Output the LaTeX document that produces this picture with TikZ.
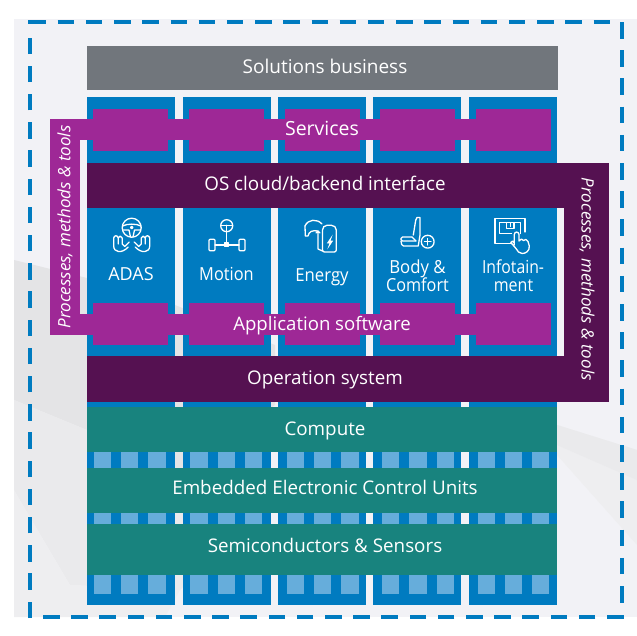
\documentclass[tikz,border=0pt]{standalone}
\usepackage{fontspec}
\setmainfont{Open Sans}
\definecolor{bgc}{HTML}{F2F2F6}
\definecolor{bgd}{HTML}{E4E4E6}
\definecolor{bgm}{HTML}{EAEAEC}
\definecolor{bgl}{HTML}{EEEEF0}
\definecolor{bluec}{HTML}{007BC0}
\definecolor{lightb}{HTML}{66ADDB}
\definecolor{purp}{HTML}{9E2896}
\definecolor{dpurp}{HTML}{551151}
\definecolor{tealc}{HTML}{18837E}
\definecolor{grayc}{HTML}{71767C}
\tikzset{
  lab/.style={text=white,anchor=base,inner sep=0pt,font=\fontsize{#1}{#1}\selectfont},
  lab/.default=18.8,
  iconlab/.style={text=white,anchor=base,inner sep=0pt,font=\fontsize{18}{18}\selectfont,xscale=#1,transform shape},
  side/.style={text=white,inner sep=0pt,font=\fontsize{17}{17}\selectfont\itshape},
  ico/.style={draw=white,line width=1.3pt,line join=round,line cap=round},
  dashb/.style={draw=bluec,line width=3.3pt,dash pattern=on 16.5pt off 11.7pt}
}
\begin{document}
\begin{tikzpicture}[x=1pt,y=-1pt]
\useasboundingbox (0,0) rectangle (637,635);
% background
\fill[bgc] (14,19) rectangle (637,617);
\fill[bgd] (14,260) -- (87,278) -- (175,305) -- (275,345) -- (275,405) -- (175,480) -- (87,430) -- (14,400) -- cycle;
\fill[bgm] (14,400) -- (87,430) -- (175,480) -- (275,500) -- (180,590) -- (70,585) -- (14,490) -- cycle;
\fill[bgl] (14,490) -- (70,585) -- (180,590) -- (165,617) -- (14,617) -- cycle;
\fill[bgl] (557,425) -- (637,450) -- (637,545) -- (557,455) -- cycle;
\fill[bgm] (557,425) -- (637,450) -- (637,480) -- (557,445) -- cycle;
% dashed frame
\draw[dashb] (29.5,22) -- (615,22);
\draw[dashb] (622,22) -- (622,603);
\draw[dashb] (623.5,617) -- (43,617);
\draw[dashb] (30,618) -- (30,37);
\draw[draw=bluec,line width=3.3pt] (28,22) -- (30,22) -- (30,24);
% columns
\foreach \x in {87,183,278,373,469}
  \fill[bluec] (\x,97) rectangle ++(88,508);
% light squares
\foreach \a/\b in {94/111,121/138,148/166,190/208,218/235,245/262,287/304,314/331,341/359,382/399,409/427,437/454,478/495,505/522,532/549}{
  \fill[lightb] (\a,452) rectangle (\b,468);
  \fill[lightb] (\a,513) rectangle (\b,524);
  \fill[lightb] (\a,575) rectangle (\b,594);
}
% grey
\fill[grayc] (87,46) rectangle (558,90);
% services / application
\foreach \a in {93,189,285,380,476}{
  \fill[purp] (\a,109) rectangle ++(75,42);
  \fill[purp] (\a,303) rectangle ++(75,42);
}
\fill[purp] (50,119) rectangle (551,140);
\fill[purp] (50,314) rectangle (551,335);
\fill[purp] (50,119) rectangle (80,335);
% dark bars
\fill[dpurp] (87,163) rectangle (609,208);
\fill[dpurp] (87,356) rectangle (609,402);
\fill[dpurp] (564,163) rectangle (609,402);
% teal
\fill[tealc] (87,407) rectangle (557,452);
\fill[tealc] (87,468) rectangle (557,513);
\fill[tealc] (87,524) rectangle (557,575);
% labels
\node[lab=19] (sol) at (325,73) {Solutions business};
\node[lab=19.5] (ser) at (322,135) {Services};
\node[lab] (osc) at (325,190.7) {OS cloud/backend interface};
\node[lab=18.6] (app) at (322,330) {Application software};
\node[lab] (ope) at (325,384) {Operation system};
\node[lab] (com) at (325,435.7) {Compute};
\node[lab] (emb) at (325,494) {Embedded Electronic Control Units};
\node[lab] (sem) at (325,552.7) {Semiconductors \& Sensors};
\node[iconlab=1.0] (ada) at (131,280.7) {ADAS};
\node[iconlab=0.91] (mot) at (226.5,280.7) {Motion};
\node[iconlab=0.93] (ene) at (322,281) {Energy};
\node[iconlab=0.93] (bod) at (417.5,273) {Body \&};
\node[iconlab=0.9] (cmf) at (417.5,291) {Comfort};
\node[iconlab=0.875] (inf) at (513,273) {Infotain-};
\node[iconlab=0.89] (men) at (513.5,291) {ment};
\node[side,rotate=90] (pml) at (65,227) {Processes, methods \& tools};
\node[side,rotate=-90] (pmr) at (587,279) {Processes, methods \& tools};
% ADAS icon
\draw[ico] (131.7,227.7) circle (9.5);
\draw[ico] (122.5,226) .. controls (127,223.5) and (136.5,223.5) .. (141,226);
\draw[ico,fill=white] (131.7,227.5) circle (1.2);
\draw[ico] (123.5,230) -- (129,230) -- (130.5,237) (140,230) -- (134.5,230) -- (133,237);
\foreach \s in {-1,1}{
  \begin{scope}[shift={(131.7,0)},xscale=\s]
  \draw[ico] (2.5,242) -- (7,246.5) -- (9.5,244) -- (9.5,238) .. controls (10,235.5) and (13,235.5) .. (13.5,238) -- (13.5,244)
     (13.5,238) .. controls (14,235) and (17.5,235) .. (18,238) -- (18,246)
     .. controls (18,252.5) and (10,254) .. (3.5,247);
  \end{scope}
}
% Motion icon
\draw[ico] (226.7,225.7) circle (6);
\draw[ico] (221,225.2) -- (232.5,225.2);
\draw[ico] (226.7,225.2) -- (226.7,243);
\draw[ico,rounded corners=1pt] (209,239.3) rectangle (215,250.7);
\draw[ico,rounded corners=1pt] (239,239.3) rectangle (245,250.7);
\draw[ico] (215,245) -- (239,245);
\draw[ico] (224.7,243) rectangle (228.7,246.5);
% Energy icon
\draw[ico,rounded corners=2pt] (322.5,228) -- (322.5,252) -- (336.3,252) -- (336.3,228) -- (333.5,225.3) -- (325,225.3) -- cycle;
\draw[line width=0.6pt,draw=white,fill=white] (331.5,237) -- (327.5,243) -- (330,243) -- (328.5,247) -- (332.5,241) -- (330,241) -- cycle;
\draw[ico] (305,226) -- (305.3,236) -- (308,236) .. controls (309,231.5) and (312,230) .. (318,231);
\draw[ico] (305,226) .. controls (308,219) and (317,218.5) .. (322,224);
\draw[ico] (318,231) -- (318,249) -- (322.5,251) (316,233) -- (318,231) -- (320,233);
% Seat icon
\draw[ico] (413.3,235) -- (415.7,220.3) -- (417,217.5) -- (420,217.5) -- (420,235) -- (418.3,245.5);
\draw[ico,rounded corners=1.5pt] (412,237) -- (401,237) -- (401,241) -- (416,241);
\draw[ico,rounded corners=1.5pt] (401,241) -- (402,246) -- (418.3,246) (412,237) -- (416,241);
\draw[ico] (427.7,241.7) circle (6.4);
\draw[ico] (424.5,241.7) -- (431,241.7) (427.7,238.4) -- (427.7,245);
% Infotainment icon
\draw[ico] (511.7,243.7) -- (495,243.7) -- (495,218.7) -- (525,218.7) -- (525,232);
\draw[ico] (511.5,233.7) -- (499.3,233.7) -- (499.3,222.7) -- (520.7,222.7) -- (520.7,233.5);
\draw[ico] (506.7,222.7) -- (506.7,228.7) -- (514,228.7) -- (514,222.7) (510.3,222.7) -- (510.3,226.5);
\draw[ico] (514.3,245) -- (514.3,234.5) .. controls (514.3,231.3) and (519,231.3) .. (519,234.5) -- (519,241)
   .. controls (520,238.5) and (523,238.5) .. (523.5,240.5) .. controls (524.5,239) and (527.5,239) .. (528,241.5)
   -- (529.3,246) .. controls (529.6,251) and (526,253.5) .. (522,253.5) .. controls (519,253.5) and (517.5,251) .. (516,248.5)
   -- (510.8,242.5) .. controls (511.5,240) and (513.5,241) .. (514.3,243);
\end{tikzpicture}
\end{document}
